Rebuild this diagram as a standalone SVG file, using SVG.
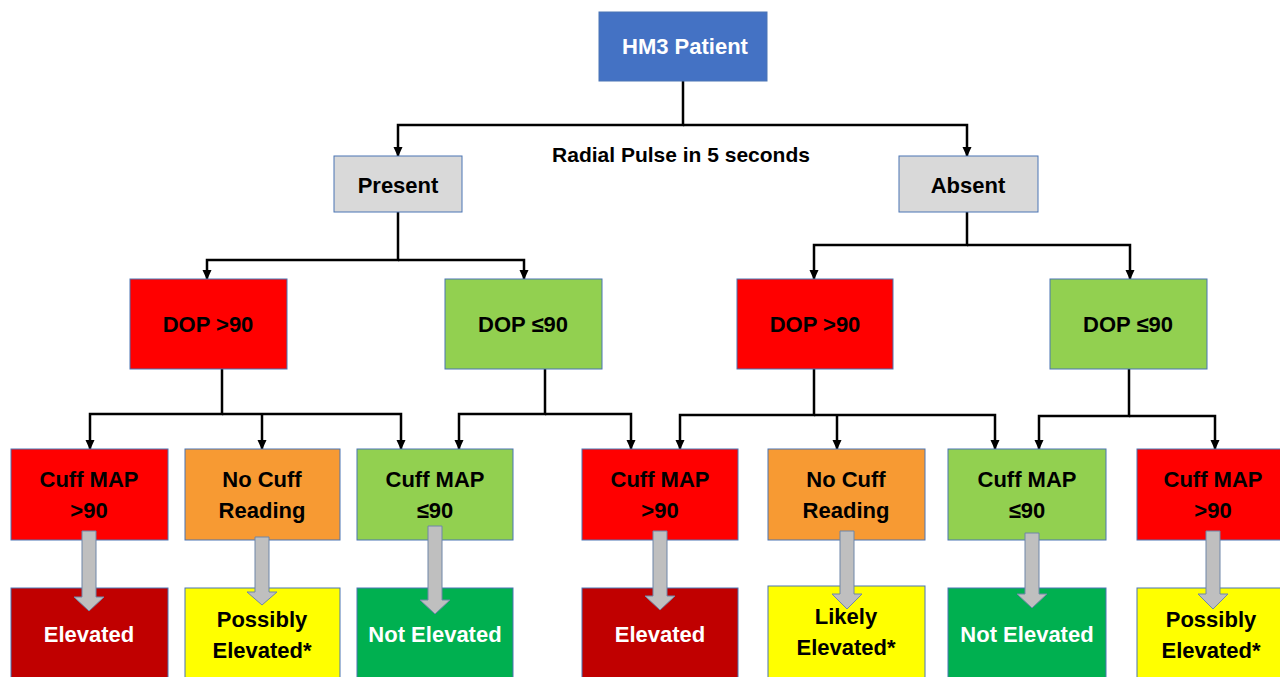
<svg xmlns="http://www.w3.org/2000/svg" width="1280" height="677" viewBox="0 0 1280 677">
<style>
.box{stroke:#4A74B4;stroke-width:1}
.t{font-family:"Liberation Sans",Arial,sans-serif;font-weight:bold;text-anchor:middle;fill:#000;font-size:22px}
.w{fill:#fff}
.c{fill:none;stroke:#000;stroke-width:2.5;marker-end:url(#ah)}
.ba{fill:#BFBFBF;stroke:#6F86A8;stroke-width:1}
</style>
<defs>
<marker id="ah" markerUnits="userSpaceOnUse" markerWidth="10" markerHeight="10" refX="9" refY="5" orient="auto">
<path d="M0,0.5 L10,5 L0,9.5 z" fill="#000"/>
</marker>
</defs>
<rect width="1280" height="677" fill="#fff"/>

<g id="connectors">
<path class="c" d="M683,81 V125 H398 V156"/>
<path class="c" d="M683,125 H967 V156"/>
<path class="c" d="M398,212 V260 H207 V279"/>
<path class="c" d="M398,260 H524 V279"/>
<path class="c" d="M967,212 V245 H814 V279"/>
<path class="c" d="M967,245 H1130 V279"/>
<path class="c" d="M222,369 V414 H90 V449"/>
<path class="c" d="M222,414 H401 V449"/>
<path class="c" d="M262,414 V449"/>
<path class="c" d="M545,369 V414 H459 V449"/>
<path class="c" d="M545,414 H631 V449"/>
<path class="c" d="M814,369 V415 H680 V449"/>
<path class="c" d="M814,415 H995 V449"/>
<path class="c" d="M837,415 V449"/>
<path class="c" d="M1129,369 V416 H1039 V449"/>
<path class="c" d="M1129,416 H1215 V449"/>
</g>
<text class="t" x="681" y="162" style="font-size:21px">Radial Pulse in 5 seconds</text>

<g id="hm3"><rect class="box" x="599" y="12" width="168" height="69" fill="#4472C4"/><text class="t w" x="685" y="54">HM3 Patient</text></g>
<g id="present"><rect class="box" x="334" y="156" width="128" height="56" fill="#D9D9D9"/><text class="t" x="398" y="193">Present</text></g>
<g id="absent"><rect class="box" x="899" y="156" width="139" height="56" fill="#D9D9D9"/><text class="t" x="968" y="193">Absent</text></g>

<g id="dop-high-l"><rect class="box" x="130" y="279" width="157" height="90" fill="#FF0000"/><text class="t" x="208" y="332">DOP &gt;90</text></g>
<g id="dop-low-l"><rect class="box" x="445" y="279" width="157" height="90" fill="#92D050"/><text class="t" x="523" y="332">DOP ≤90</text></g>
<g id="dop-high-r"><rect class="box" x="737" y="279" width="156" height="90" fill="#FF0000"/><text class="t" x="815" y="332">DOP &gt;90</text></g>
<g id="dop-low-r"><rect class="box" x="1050" y="279" width="157" height="90" fill="#92D050"/><text class="t" x="1128" y="332">DOP ≤90</text></g>

<g id="cuff1"><rect class="box" x="11" y="449" width="157" height="91" fill="#FF0000"/><text class="t" x="89" y="487">Cuff MAP</text><text class="t" x="89" y="518">&gt;90</text></g>
<g id="nocuff1"><rect class="box" x="185" y="449" width="155" height="91" fill="#F79A33"/><text class="t" x="262" y="487">No Cuff</text><text class="t" x="262" y="518">Reading</text></g>
<g id="cufflow1"><rect class="box" x="357" y="449" width="156" height="91" fill="#92D050"/><text class="t" x="435" y="487">Cuff MAP</text><text class="t" x="435" y="518">≤90</text></g>
<g id="cuff2"><rect class="box" x="582" y="449" width="156" height="91" fill="#FF0000"/><text class="t" x="660" y="487">Cuff MAP</text><text class="t" x="660" y="518">&gt;90</text></g>
<g id="nocuff2"><rect class="box" x="768" y="449" width="157" height="91" fill="#F79A33"/><text class="t" x="846" y="487">No Cuff</text><text class="t" x="846" y="518">Reading</text></g>
<g id="cufflow2"><rect class="box" x="948" y="449" width="158" height="91" fill="#92D050"/><text class="t" x="1027" y="487">Cuff MAP</text><text class="t" x="1027" y="518">≤90</text></g>
<g id="cuff3"><rect class="box" x="1137" y="449" width="156" height="91" fill="#FF0000"/><text class="t" x="1213" y="487">Cuff MAP</text><text class="t" x="1213" y="518">&gt;90</text></g>

<g id="res1"><rect class="box" x="11" y="588" width="157" height="92" fill="#C00000"/><text class="t w" x="89" y="642">Elevated</text></g>
<g id="res2"><rect class="box" x="185" y="588" width="155" height="92" fill="#FFFF00"/><text class="t" x="262" y="627">Possibly</text><text class="t" x="262" y="658">Elevated*</text></g>
<g id="res3"><rect class="box" x="357" y="588" width="156" height="92" fill="#00B050"/><text class="t w" x="435" y="642">Not Elevated</text></g>
<g id="res4"><rect class="box" x="582" y="588" width="156" height="92" fill="#C00000"/><text class="t w" x="660" y="642">Elevated</text></g>
<g id="res5"><rect class="box" x="768" y="586" width="157" height="94" fill="#FFFF00"/><text class="t" x="846" y="624">Likely</text><text class="t" x="846" y="655">Elevated*</text></g>
<g id="res6"><rect class="box" x="948" y="588" width="158" height="92" fill="#00B050"/><text class="t w" x="1027" y="642">Not Elevated</text></g>
<g id="res7"><rect class="box" x="1137" y="588" width="156" height="92" fill="#FFFF00"/><text class="t" x="1211" y="627">Possibly</text><text class="t" x="1211" y="658">Elevated*</text></g>

<g id="block-arrows">
<polygon class="ba" points="82,531 96,531 96,597 104,597 89,611 74,597 82,597"/>
<polygon class="ba" points="255,537 269,537 269,592 277,592 262,605 247,592 255,592"/>
<polygon class="ba" points="428,526 442,526 442,600 450,600 435,614 420,600 428,600"/>
<polygon class="ba" points="653,531 667,531 667,596 675,596 660,610 645,596 653,596"/>
<polygon class="ba" points="840,531 854,531 854,594 862,594 847,609 832,594 840,594"/>
<polygon class="ba" points="1025,533 1039,533 1039,594 1047,594 1032,608 1017,594 1025,594"/>
<polygon class="ba" points="1206,531 1220,531 1220,594 1228,594 1213,609 1198,594 1206,594"/>
</g>
</svg>
